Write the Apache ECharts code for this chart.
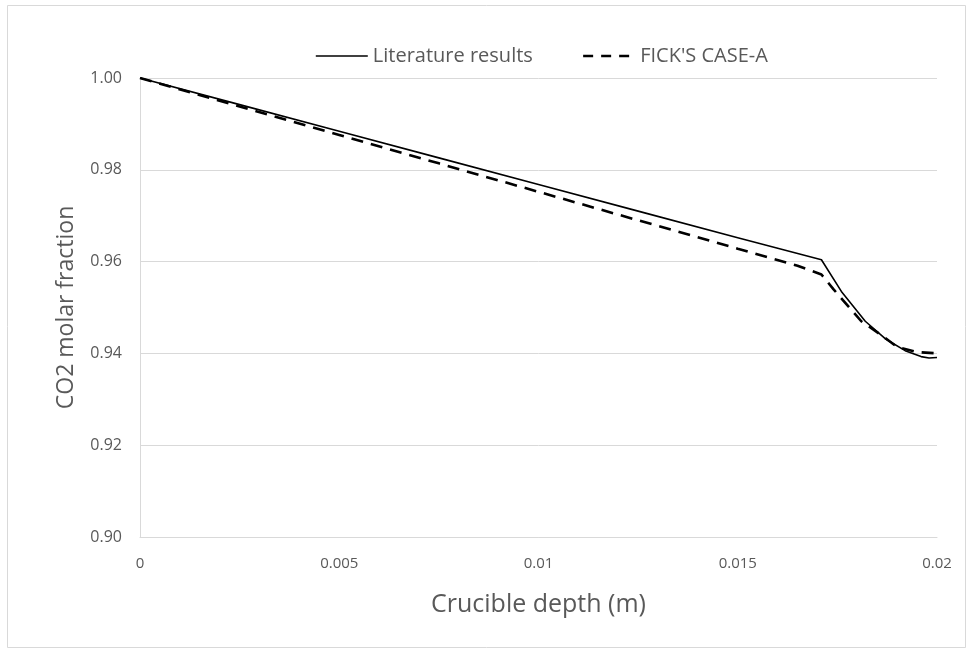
<!DOCTYPE html>
<html>
<head>
<meta charset="utf-8">
<script src="https://cdn.jsdelivr.net/npm/echarts@6/dist/echarts.min.js"></script>
<style>
  html, body { margin: 0; padding: 0; background: #ffffff; }
  #chart { width: 971px; height: 659px; }
</style>
</head>
<body>
<div id="chart"></div>
<script>
// Crucible depth (m) and CO2 molar fraction for each profile
const litDepth = [0, 0.0025, 0.005, 0.0075, 0.01, 0.0125, 0.015, 0.0171,
                  0.0176, 0.0182, 0.0187, 0.0192, 0.0196, 0.0198, 0.0200];
const litFrac  = [1.0000, 0.9942, 0.9884, 0.9826, 0.9768, 0.9710, 0.9652, 0.9604,
                  0.9535, 0.9470, 0.9432, 0.9406, 0.9393, 0.9390, 0.9391];

const fickDepth = [0, 0.0025, 0.005, 0.0075, 0.01, 0.0125, 0.015, 0.0165, 0.0171,
                   0.0174, 0.0178, 0.0181, 0.0186, 0.0190, 0.0195, 0.0200];
const fickFrac  = [1.0000, 0.9938, 0.9876, 0.9814, 0.9752, 0.9690, 0.9628, 0.9591, 0.9572,
                   0.9540, 0.9500, 0.9470, 0.9440, 0.9414, 0.9403, 0.9400];

const seriesNames = ['Literature results', "FICK'S CASE-A"];
const xTicks = ['0', '0.005', '0.01', '0.015', '0.02'];
const yTicks = ['0.90', '0.92', '0.94', '0.96', '0.98', '1.00'];

const pair = (xs, ys) => xs.map((x, i) => [x, ys[i]]);

const font = '"Open Sans", Lato, sans-serif';
const grey = '#595959';
const hidden = 'rgba(0,0,0,0)';

const chart = echarts.init(document.getElementById('chart'), null, { renderer: 'canvas' });
chart.setOption({
  backgroundColor: '#ffffff',
  animation: false,
  textStyle: { fontFamily: font },
  graphic: [{
    type: 'rect',
    shape: { x: 7.5, y: 5.5, width: 958, height: 642 },
    style: { fill: 'none', stroke: '#d9d9d9', lineWidth: 1 },
    silent: true
  }],
  legend: {
    left: 310,
    top: 41,
    itemWidth: 52,
    itemHeight: 14,
    itemGap: 49,
    itemStyle: { color: hidden, borderColor: hidden, borderWidth: 0 },
    textStyle: { fontFamily: font, fontSize: 20, color: grey },
    data: [
      { name: seriesNames[0], lineStyle: { color: '#000000', width: 1.6, type: 'solid' } },
      { name: seriesNames[1], lineStyle: { color: '#000000', width: 2.6, type: [10, 8] } }
    ]
  },
  grid: { left: 140, right: 34, top: 78, bottom: 122, containLabel: false },
  xAxis: {
    type: 'value',
    min: 0, max: 0.02, interval: 0.005,
    name: 'Crucible depth (m)',
    nameLocation: 'middle',
    nameGap: 55,
    nameTextStyle: { fontFamily: font, fontSize: 25, color: grey },
    axisLine: { show: true, lineStyle: { color: '#d9d9d9', width: 1 } },
    axisTick: { show: false },
    splitLine: { show: false },
    axisLabel: {
      fontFamily: font, fontSize: 15, color: grey, margin: 19,
      formatter: (v) => xTicks[Math.round(v / 0.005)]
    }
  },
  yAxis: {
    type: 'value',
    min: 0.9, max: 1.0, interval: 0.02,
    name: 'CO2 molar fraction',
    nameLocation: 'middle',
    nameGap: 62,
    nameTextStyle: { fontFamily: font, fontSize: 23, color: grey },
    axisLine: { show: true, lineStyle: { color: '#d9d9d9', width: 1 } },
    axisTick: { show: false },
    splitLine: { show: true, lineStyle: { color: '#d9d9d9', width: 1 } },
    axisLabel: {
      fontFamily: font, fontSize: 16, color: grey, margin: 18,
      formatter: (v) => yTicks[Math.round((v - 0.9) / 0.02)]
    }
  },
  series: [
    {
      name: seriesNames[0],
      type: 'line',
      data: pair(litDepth, litFrac),
      symbol: 'none',
      smooth: false,
      lineStyle: { color: '#000000', width: 1.6, type: 'solid' },
      itemStyle: { color: '#000000' },
      z: 3
    },
    {
      name: seriesNames[1],
      type: 'line',
      data: pair(fickDepth, fickFrac),
      symbol: 'none',
      smooth: false,
      lineStyle: { color: '#000000', width: 2.6, type: [12, 8] },
      itemStyle: { color: '#000000' },
      z: 2
    }
  ]
});
</script>
</body>
</html>
